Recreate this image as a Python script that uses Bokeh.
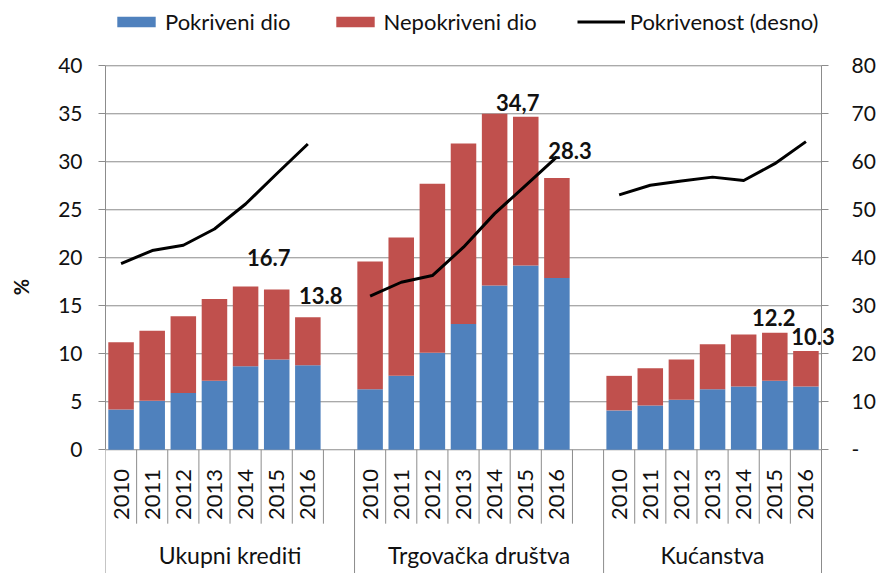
import math
from bokeh.plotting import figure
from bokeh.models import (Range1d, LinearAxis, FixedTicker, ColumnDataSource,
                          Legend, LegendItem)
from bokeh.core.properties import value
from bokeh.embed import file_html
from bokeh.resources import INLINE

# ---------------- data ----------------
groups = ["Ukupni krediti", "Trgovačka društva", "Kućanstva"]
years = ["2010", "2011", "2012", "2013", "2014", "2015", "2016"]

covered_total = [4.2, 5.1, 5.9, 7.2, 8.7, 9.4, 8.8]
bar_total_total = [11.2, 12.4, 13.9, 15.7, 17.0, 16.7, 13.8]
covered_firms = [6.3, 7.7, 10.1, 13.1, 17.1, 19.2, 17.9]
bar_total_firms = [19.6, 22.1, 27.7, 31.9, 35.0, 34.7, 28.3]
covered_hh = [4.1, 4.6, 5.2, 6.3, 6.6, 7.2, 6.6]
bar_total_hh = [7.7, 8.5, 9.4, 11.0, 12.0, 12.2, 10.3]

coverage_total = [38.8, 41.5, 42.6, 46.0, 51.2, 57.5, 63.7]
coverage_firms = [32.0, 34.9, 36.3, 42.2, 49.2, 55.1, 61.0]
coverage_hh = [53.1, 55.1, 56.0, 56.8, 56.1, 59.6, 64.2]

left_ticks = [0, 5, 10, 15, 20, 25, 30, 35, 40]
right_ticks = [0, 10, 20, 30, 40, 50, 60, 70, 80]

# value labels: (group index, year index, text)
label_group = [0, 0, 1, 1, 2, 2]
label_year = [5, 6, 5, 6, 5, 6]
label_text = ["16.7", "13.8", "34,7", "28.3", "12.2", "10.3"]

# ---------------- style / layout ----------------
FONT = "Lato"
BLUE = "#4F81BD"
RED = "#C0504D"
GRAY = "#8c8c8c"
TXT = "#111111"
label_dx = [-8, 13, -8, 13, -1, 7]
label_dy = [-32, -22, -14, -28, -15, -14]

slot = len(years) + 1
n_slots = slot * (len(groups) - 1) + len(years)

PLOT_W_PX = 716          # width of the category area in px
FRAME_W_PX = 879 - 105   # frame extends to the right edge (room for the right axis)
X_END = n_slots * FRAME_W_PX / PLOT_W_PX

Y_MIN, Y_MAX = -12.89, 46.80
R_MIN, R_MAX = Y_MIN * 2, Y_MAX * 2
YEAR_LABEL_Y = -4.66
DIVIDER_Y = -7.7
GROUP_LABEL_Y = -11.0

covered_all = [covered_total, covered_firms, covered_hh]
totals_all = [bar_total_total, bar_total_firms, bar_total_hh]
coverage_all = [coverage_total, coverage_firms, coverage_hh]

xs, cov, unc = [], [], []
for g in range(len(groups)):
    for i in range(len(years)):
        xs.append(g * slot + i + 0.5)
        cov.append(covered_all[g][i])
        unc.append(round(totals_all[g][i] - covered_all[g][i], 2))
src = ColumnDataSource(dict(x=xs, covered=cov, uncovered=unc))

p = figure(width=879, height=573, output_backend="svg", toolbar_location=None,
           x_range=Range1d(0, X_END), y_range=Range1d(Y_MIN, Y_MAX),
           x_axis_location=None, min_border_left=105, min_border_right=0,
           min_border_top=0, min_border_bottom=0)
p.extra_y_ranges = {"right": Range1d(R_MIN, R_MAX)}
p.outline_line_color = None
p.xgrid.visible = False
p.ygrid.visible = False

# horizontal gridlines across the category area only
p.segment(x0=[0] * len(left_ticks), y0=left_ticks,
          x1=[n_slots] * len(left_ticks), y1=left_ticks,
          line_color=GRAY, line_width=1)

# left axis
ya = p.yaxis[0]
ya.bounds = (left_ticks[0], left_ticks[-1])
ya.ticker = FixedTicker(ticks=left_ticks)
ya.axis_line_color = GRAY
ya.major_tick_line_color = GRAY
ya.major_tick_in = 0
ya.major_tick_out = 7
ya.minor_tick_line_color = None
ya.major_label_standoff = 16
ya.major_label_text_font = FONT
ya.major_label_text_font_size = "21px"
ya.major_label_text_color = TXT
ya.axis_label = "%"
ya.axis_label_text_font = FONT
ya.axis_label_text_font_style = "bold"
ya.axis_label_text_font_size = "20px"
ya.axis_label_text_color = TXT
ya.axis_label_standoff = 22

# right axis, fixed at the end of the category area
ra = LinearAxis(y_range_name="right", bounds=(right_ticks[0], right_ticks[-1]),
                ticker=FixedTicker(ticks=right_ticks), fixed_location=n_slots)
ra.major_label_overrides = {0: "-"}
ra.axis_line_color = GRAY
ra.major_tick_line_color = GRAY
ra.major_tick_in = 0
ra.major_tick_out = 7
ra.minor_tick_line_color = None
ra.major_label_standoff = 23
ra.major_label_text_font = FONT
ra.major_label_text_font_size = "21px"
ra.major_label_text_color = TXT
p.add_layout(ra, "right")

# bars
rs = p.vbar_stack(["covered", "uncovered"], x="x", width=0.82, source=src,
                  color=[BLUE, RED], line_color=None)

# coverage lines (right axis)
line_r = None
for g in range(len(groups)):
    gx = [g * slot + i + 0.5 for i in range(len(years))]
    line_r = p.line(gx, coverage_all[g], y_range_name="right",
                    line_color="black", line_width=3, line_join="round")

# category axis drawn below zero
div_x, div_y1 = [], []
for g in range(len(groups)):
    for i in range(1, len(years) + (1 if g < len(groups) - 1 else 0)):
        div_x.append(g * slot + i)
        div_y1.append(DIVIDER_Y)
for g in range(len(groups)):
    div_x.append(g * slot)
    div_y1.append(Y_MIN)
div_x.append(n_slots)
div_y1.append(Y_MIN)
p.segment(x0=div_x, y0=[0] * len(div_x), x1=div_x, y1=div_y1,
          line_color=GRAY, line_width=1)

p.text(x=xs, y=[YEAR_LABEL_Y] * len(xs), text=years * len(groups),
       angle=math.pi / 2, text_align="center", text_baseline="middle",
       text_font=value(FONT), text_font_size="22px", text_color=TXT)

gx_c = [g * slot + (slot if g < len(groups) - 1 else len(years)) / 2
        for g in range(len(groups))]
p.text(x=gx_c, y=[GROUP_LABEL_Y] * len(groups), text=groups,
       text_align="center", text_baseline="middle",
       text_font=value(FONT), text_font_size="23px", text_color=TXT)

# value labels
lx = [label_group[k] * slot + label_year[k] + 0.5 for k in range(len(label_text))]
ly = [totals_all[label_group[k]][label_year[k]] for k in range(len(label_text))]
lsrc = ColumnDataSource(dict(x=lx, y=ly, t=label_text, dx=label_dx, dy=label_dy))
p.text(x="x", y="y", text="t", x_offset="dx", y_offset="dy", source=lsrc,
       text_align="center", text_baseline="middle",
       text_font=value(FONT), text_font_size="22px", text_font_style="bold",
       text_color=TXT)

# legend
legend = Legend(items=[LegendItem(label="Pokriveni dio", renderers=[rs[0]]),
                       LegendItem(label="Nepokriveni dio", renderers=[rs[1]]),
                       LegendItem(label="Pokrivenost (desno)", renderers=[line_r])],
                orientation="horizontal", location=(7, 538),
                glyph_width=48, glyph_height=13, label_standoff=5, spacing=40,
                padding=0, margin=0, label_height=26,
                border_line_color=None, background_fill_alpha=0,
                label_text_font=FONT, label_text_font_size="22px",
                label_text_color=TXT)
p.add_layout(legend)

open("out.html", "w").write(file_html(p, INLINE))
